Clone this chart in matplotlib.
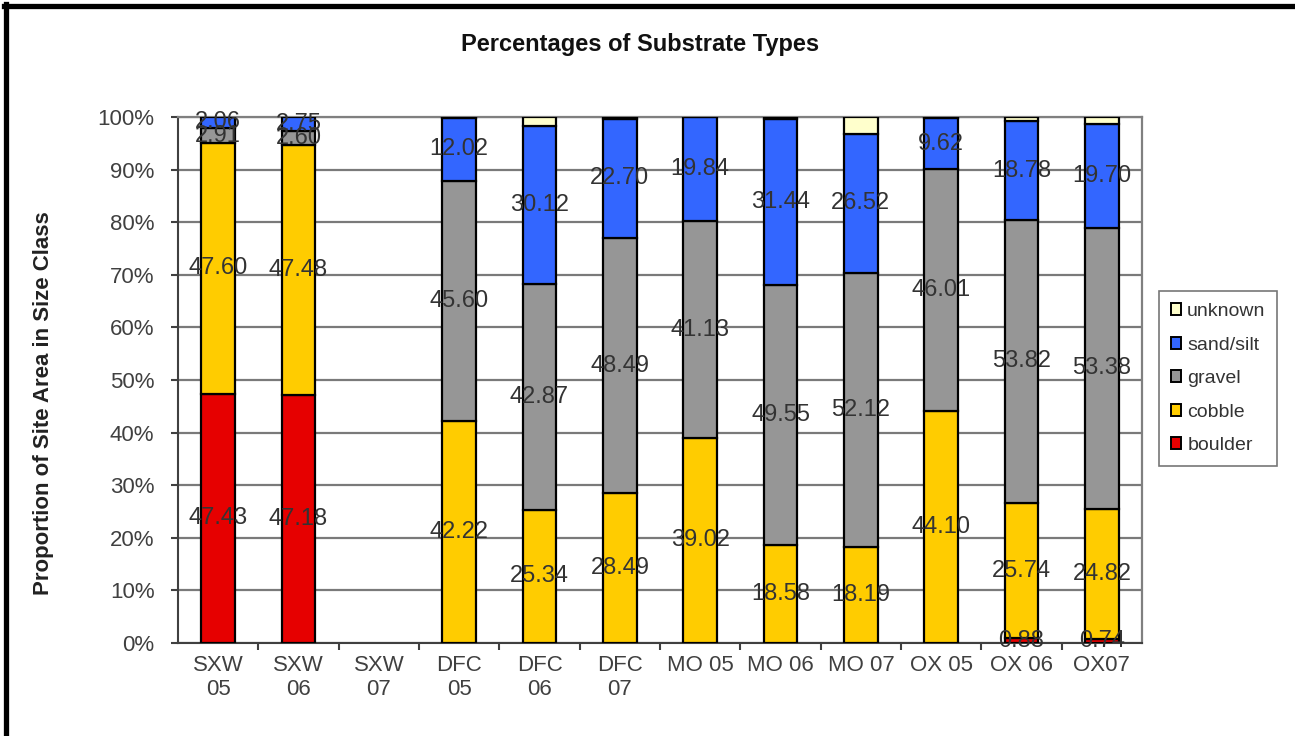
import numpy as np
import matplotlib.pyplot as plt
from matplotlib.lines import Line2D
from matplotlib.patches import Patch
from matplotlib.ticker import FixedLocator, PercentFormatter

plt.rcParams["font.family"] = ["Liberation Sans", "DejaVu Sans"]

sites = ["SXW\n05", "SXW\n06", "SXW\n07", "DFC\n05", "DFC\n06", "DFC\n07",
         "MO 05", "MO 06", "MO 07", "OX 05", "OX 06", "OX07"]

# percent of site area per size class, bottom to top
boulder = [47.43, 47.18, 0, 0, 0, 0, 0, 0, 0, 0, 0.88, 0.74]
cobble = [47.60, 47.48, 0, 42.22, 25.34, 28.49, 39.02, 18.58, 18.19, 44.10, 25.74, 24.82]
gravel = [2.91, 2.60, 0, 45.60, 42.87, 48.49, 41.13, 49.55, 52.12, 46.01, 53.82, 53.38]
sand_silt = [2.06, 2.75, 0, 12.02, 30.12, 22.70, 19.84, 31.44, 26.52, 9.62, 18.78, 19.70]
unknown = [0, 0, 0, 0.16, 1.67, 0.32, 0.01, 0.43, 3.17, 0.27, 0.78, 1.36]

classes = [
    ("boulder", boulder, "#e60000", True),
    ("cobble", cobble, "#ffcc00", True),
    ("gravel", gravel, "#969696", True),
    ("sand/silt", sand_silt, "#3366ff", True),
    ("unknown", unknown, "#ffffcc", False),
]

fig = plt.figure(figsize=(12.95, 7.36), dpi=100)
ax = fig.add_axes([0.1375, 0.1264, 0.7444, 0.7146])

x = np.arange(len(sites))
bottom = np.zeros(len(sites))
handles = {}
for name, vals, color, labelled in classes:
    vals = np.array(vals, dtype=float)
    lw = np.where(vals > 0, 1.6, 0.0)
    ax.bar(x, vals, width=0.42, bottom=bottom, color=color,
           edgecolor="black", linewidth=lw, zorder=3)
    handles[name] = Patch(facecolor=color, edgecolor="black", linewidth=1.4)
    if labelled:
        for xi, b, v in zip(x, bottom, vals):
            if v > 0:
                ax.text(xi, b + v / 2, f"{v:.2f}", ha="center", va="center",
                        fontsize=17, color="#333333", zorder=5)
    bottom += vals

ax.set_xlim(-0.5, len(sites) - 0.5)
ax.set_ylim(0, 100)
ax.yaxis.set_major_locator(FixedLocator(np.arange(0, 101, 10)))
ax.yaxis.set_major_formatter(PercentFormatter(decimals=0))
ax.grid(axis="y", color="#7a7a7a", linewidth=1.6, zorder=0)

ax.set_xticks(x)
ax.set_xticklabels(sites, linespacing=1.15)
ax.set_xticks(np.arange(0.5, len(sites) - 0.5, 1), minor=True)
ax.tick_params(axis="x", which="major", length=0, pad=9, labelsize=16,
               labelcolor="#404040")
ax.tick_params(axis="x", which="minor", length=5, width=1.5, direction="out",
               color="#404040")
ax.tick_params(axis="y", length=5, width=1.5, pad=12, labelsize=16,
               labelcolor="#404040", color="#404040")

for side in ("left", "bottom"):
    ax.spines[side].set_color("#404040")
    ax.spines[side].set_linewidth(1.5)
for side in ("top", "right"):
    ax.spines[side].set_color("#808080")
    ax.spines[side].set_linewidth(1.6)

ax.set_ylabel("Proportion of Site Area in Size Class", fontsize=16,
              fontweight="bold", color="#222222")
ax.yaxis.set_label_coords(-0.129, 0.456)
fig.text(0.494, 0.940, "Percentages of Substrate Types", ha="center",
         va="center", fontsize=17, fontweight="bold", color="#111111",
         family=["Liberation Sans Narrow", "Liberation Sans", "DejaVu Sans"])

order = ["unknown", "sand/silt", "gravel", "cobble", "boulder"]
leg = fig.legend([handles[n] for n in order], order, loc="upper left",
                 bbox_to_anchor=(0.895, 0.604), fontsize=14, frameon=True,
                 fancybox=False, edgecolor="#555555", handlelength=0.55,
                 handleheight=0.55, handletextpad=0.3, labelspacing=0.85,
                 borderpad=0.6, borderaxespad=0.0, labelcolor="#333333")
leg.get_frame().set_linewidth(1.2)

# black frame on the top and left edges of the figure
fig.add_artist(Line2D([0.005, 0.005], [0, 0.994], transform=fig.transFigure,
                      color="black", linewidth=3.8))
fig.add_artist(Line2D([0.003, 1.0], [0.992, 0.992], transform=fig.transFigure,
                      color="black", linewidth=3.8))

fig.savefig("out.png", dpi=100)
